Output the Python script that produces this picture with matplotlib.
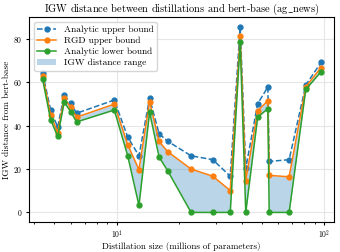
import matplotlib
matplotlib.use("Agg")
import matplotlib.pyplot as plt

plt.rcParams['font.family'] = 'serif'
plt.rcParams['font.serif'] = ['cmr10', 'DejaVu Serif']
plt.rcParams['mathtext.fontset'] = 'cm'
plt.rcParams['axes.formatter.use_mathtext'] = True

# distillation sizes (millions of parameters)
sizes = [4.40, 4.81, 5.20, 5.59, 6.00, 6.41, 9.74, 11.3, 12.8, 14.4, 16.0, 17.6,
         22.8, 29.0, 35.2, 39.3, 41.8, 47.7, 53.4, 54.2, 67.6, 81.3, 96.2]
analytic_upper = [64.2, 47.2, 39.3, 54.1, 50.3, 45.7, 51.8, 34.7, 26.1, 52.6, 36.2, 32.8,
                  26.1, 24.3, 16.7, 85.5, 20.3, 50.1, 57.8, 23.5, 24.3, 58.7, 69.1]
rgd_upper = [63.0, 45.0, 36.8, 52.6, 48.5, 43.9, 49.9, 31.2, 19.7, 51.1, 32.7, 28.0,
             20.0, 16.7, 10.1, 81.2, 14.7, 46.8, 51.5, 17.1, 16.4, 57.9, 66.7]
analytic_lower = [61.3, 42.7, 35.0, 50.8, 46.5, 41.7, 47.2, 26.1, 3.2, 46.2, 25.5, 19.2,
                  0.0, 0.0, 0.0, 78.6, 0.0, 43.9, 47.8, 0.0, 0.0, 56.7, 64.8]

fig, ax = plt.subplots(figsize=(3.4, 2.52), dpi=100)

ax.plot(sizes, analytic_upper, '--o', color='#1f77b4', lw=1.1, ms=3.5,
        label='Analytic upper bound', zorder=3)
ax.plot(sizes, rgd_upper, '-o', color='#ff7f0e', lw=1.1, ms=3.5,
        label='RGD upper bound', zorder=4)
ax.plot(sizes, analytic_lower, '-o', color='#2ca02c', lw=1.1, ms=3.5,
        label='Analytic lower bound', zorder=5)
ax.fill_between(sizes, analytic_lower, rgd_upper, color='#1f77b4', alpha=0.3,
                lw=0, label='IGW distance range', zorder=2)

ax.set_xscale('log')
ax.set_xlim(3.78, 111)
ax.set_ylim(-4.3, 90)
ax.set_yticks([0, 20, 40, 60, 80])
ax.grid(True, which='major', color='#e6e6e6', lw=0.8)
ax.set_axisbelow(True)
ax.tick_params(labelsize=5.5, length=2.5, pad=2)
ax.tick_params(which='minor', length=1.5)

ax.set_title(r'IGW distance between distillations and bert-base (ag$\_$news)',
             fontsize=7.5, pad=4)
ax.set_xlabel('Distillation size (millions of parameters)', fontsize=6.5, labelpad=1)
ax.set_ylabel('IGW distance from bert-base', fontsize=6.7, labelpad=2)
ax.legend(loc='upper left', fontsize=6.8, handlelength=2.0, borderpad=0.4,
          labelspacing=0.25)

fig.subplots_adjust(left=0.085, right=0.982, top=0.932, bottom=0.12)
fig.savefig('out.png', dpi=100)
